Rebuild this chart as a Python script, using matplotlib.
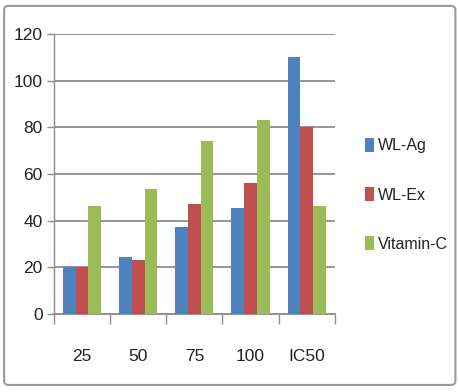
import matplotlib
matplotlib.use("Agg")
import matplotlib.pyplot as plt
from matplotlib.patches import FancyBboxPatch
import numpy as np

categories = ["25", "50", "75", "100", "IC50"]
wl_ag = [20, 24.3, 37.5, 45.6, 110]
wl_ex = [20, 23.3, 47.3, 56, 80]
vit_c = [46.5, 53.6, 74, 83, 46.5]
series_names = ["WL-Ag", "WL-Ex", "Vitamin-C"]
colors = ["#4F81BD", "#C0504D", "#9BBB59"]

plt.rcParams['font.family'] = ['Liberation Sans', 'DejaVu Sans']

fig = plt.figure(figsize=(4.6, 3.92), dpi=100)
ax = fig.add_axes([0.117, 0.199, 0.611, 0.714])

x = np.arange(len(categories))
w = 0.227
handles = []
for i, (vals, name, c) in enumerate(zip([wl_ag, wl_ex, vit_c], series_names, colors)):
    b = ax.bar(x + (i - 1) * w, vals, width=w, color=c, label=name, zorder=3)
    handles.append(b)

ax.set_xlim(-0.5, len(categories) - 0.5)
ax.set_ylim(0, 120)
ax.set_yticks(range(0, 121, 20))
ax.yaxis.grid(True, color="#8c8c8c", linewidth=1.3, zorder=0)
ax.set_axisbelow(True)
for s in ["top", "right"]:
    ax.spines[s].set_visible(False)
ax.spines["left"].set_color("#8c8c8c")
ax.spines["bottom"].set_color("#8c8c8c")
ax.spines["left"].set_linewidth(1.0)
ax.spines["bottom"].set_linewidth(1.3)

ax.set_xticks(np.arange(-0.5, len(categories), 1.0), minor=False)
ax.set_xticklabels([])
ax.set_xticks(x, minor=True)
ax.set_xticklabels(categories, minor=True)
ax.tick_params(axis="x", which="major", length=7, color="#8c8c8c", width=1)
ax.tick_params(axis="x", which="minor", length=0, pad=25, labelsize=12.5, labelcolor="#222222")
ax.tick_params(axis="y", length=5, color="#8c8c8c", width=1, labelsize=12.5, labelcolor="#222222", pad=3)

leg = fig.legend(handles=handles, labels=series_names, loc="center left",
                 bbox_to_anchor=(0.762, 0.503), frameon=False, fontsize=11.5,
                 handlelength=0.55, handleheight=1.0, handletextpad=0.25,
                 labelspacing=2.1)
for t in leg.get_texts():
    t.set_color("#222222")

frame = FancyBboxPatch((0.009, 0.018), 0.981, 0.967, boxstyle="round,pad=0,rounding_size=0.01",
                       transform=fig.transFigure, fill=False, edgecolor="#9a9a9a", linewidth=1.5)
fig.patches.append(frame)

fig.savefig("out.png", dpi=100)
